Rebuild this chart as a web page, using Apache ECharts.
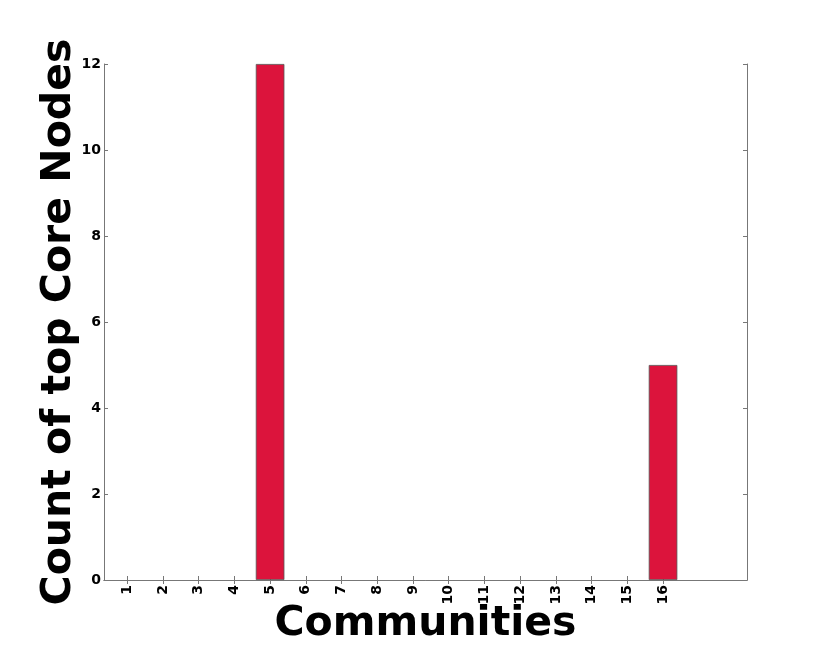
<!DOCTYPE html>
<html>
<head>
<meta charset="utf-8">
<script src="https://cdn.jsdelivr.net/npm/echarts@6/dist/echarts.min.js"></script>
<style>
  html, body { margin: 0; padding: 0; background: #fff; }
  #chart { width: 830px; height: 646px; }
</style>
</head>
<body>
<div id="chart"></div>
<script>
// communities on the x axis and how many top core nodes each holds
var communities = [1, 2, 3, 4, 5, 6, 7, 8, 9, 10, 11, 12, 13, 14, 15, 16];
var coreCounts = [0, 0, 0, 0, 12, 0, 0, 0, 0, 0, 0, 0, 0, 0, 0, 5];
var yTicks = [0, 2, 4, 6, 8, 10, 12];

var font = 'DejaVu Sans';
var frameColor = '#777777';

var chart = echarts.init(document.getElementById('chart'));

// zero bars get no edge, otherwise they show as a line on the axis
var barData = communities.map(function (c, i) {
  var item = { value: [c, coreCounts[i]] };
  if (coreCounts[i] === 0) item.itemStyle = { borderWidth: 0 };
  return item;
});

var xBase = {
  type: 'value',
  min: 0.35,
  max: 18.35,
  splitLine: { show: false },
  axisLine: { lineStyle: { color: frameColor, width: 1 } },
  axisTick: {
    inside: true,
    length: 4,
    customValues: communities,
    lineStyle: { color: frameColor }
  }
};

var yBase = {
  type: 'value',
  min: 0,
  max: 12,
  interval: 2,
  splitLine: { show: false },
  axisLine: { show: true, lineStyle: { color: frameColor, width: 1 } },
  axisTick: { inside: true, length: 4, lineStyle: { color: frameColor } }
};

var option = {
  animation: false,
  backgroundColor: '#ffffff',
  grid: { left: 104, top: 64, right: 83, bottom: 66, outerBoundsMode: 'none', containLabel: false },
  xAxis: [
    Object.assign({}, xBase, {
      position: 'bottom',
      name: 'Communities',
      nameLocation: 'middle',
      nameGap: 24,
      nameMoveOverlap: false,
      nameTextStyle: { fontFamily: font, fontWeight: 'bold', fontSize: 41, color: '#000' },
      axisLabel: {
        customValues: communities,
        rotate: 90,
        margin: 5,
        fontFamily: font,
        fontWeight: 'bold',
        fontSize: 14,
        color: '#000'
      }
    }),
    Object.assign({}, xBase, {
      position: 'top',
      axisLabel: { show: false }
    })
  ],
  yAxis: [
    Object.assign({}, yBase, {
      position: 'left',
      name: 'Count of top Core Nodes',
      nameLocation: 'middle',
      nameGap: 24,
      nameMoveOverlap: false,
      nameTextStyle: { fontFamily: font, fontWeight: 'bold', fontSize: 41, color: '#000' },
      axisLabel: {
        customValues: yTicks,
        margin: 3,
        fontFamily: font,
        fontWeight: 'bold',
        fontSize: 14,
        color: '#000'
      }
    }),
    Object.assign({}, yBase, {
      position: 'right',
      axisLabel: { show: false }
    })
  ],
  series: [{
    type: 'bar',
    xAxisIndex: 0,
    yAxisIndex: 0,
    data: barData,
    barWidth: 28.6,
    itemStyle: { color: '#DC143C', borderColor: '#555555', borderWidth: 0.8 }
  }]
};

chart.setOption(option);
</script>
</body>
</html>
